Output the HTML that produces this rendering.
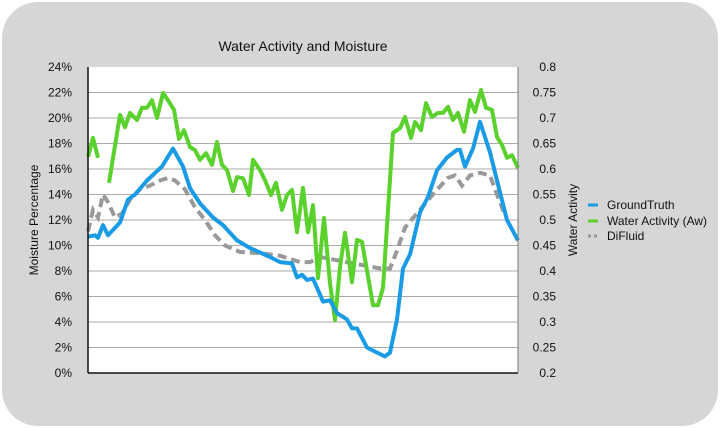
<!DOCTYPE html>
<html><head><meta charset="utf-8"><style>
html,body{margin:0;padding:0;background:#fff;}
svg{display:block;font-family:"Liberation Sans",Arial,sans-serif;}
</style></head><body>
<svg id="chart" width="720" height="428" viewBox="0 0 720 428">
<rect x="2" y="2" width="716" height="424" rx="36" fill="#d6d6d6"/>
<text x="303" y="51" font-size="14" text-anchor="middle" fill="#111">Water Activity and Moisture</text>
<rect x="88" y="67" width="430" height="306" fill="#fff"/>
<g id="grid"></g><g id="series"></g><g id="axes"></g>
<text transform="translate(38,220) rotate(-90)" font-size="12" text-anchor="middle" fill="#111">Moisture Percentage</text>
<text transform="translate(577,220) rotate(-90)" font-size="12" text-anchor="middle" fill="#111">Water Activity</text>
<g>
<g><line x1="588" y1="205" x2="598" y2="205" stroke="#1a9be6" stroke-width="3"/><text x="607" y="209" font-size="12" fill="#111">GroundTruth</text></g>
<g><line x1="588" y1="221" x2="598" y2="221" stroke="#5ad12d" stroke-width="3"/><text x="607" y="225" font-size="12" fill="#111">Water Activity (Aw)</text></g>
<g><line x1="588" y1="236" x2="598" y2="236" stroke="#999" stroke-width="3" stroke-dasharray="3,3"/><text x="607" y="240" font-size="12" fill="#111">DiFluid</text></g>
</g>
</svg>
<script>
const leftTicks=[0,2,4,6,8,10,12,14,16,18,20,22,24];
const rightTicks=["0.2","0.25","0.3","0.35","0.4","0.45","0.5","0.55","0.6","0.65","0.7","0.75","0.8"];
const gtT=[0,7,10,15,20,32,40,47,59,74,85,95,102,112,125,135,149,162,182,192,204,209,214,219,225,235,242,249,259,264,269,279,289,297,302,309,315,322,332,340,349,359,369,372,377,385,392,402,409,419,430];
const gtV=[10.7,10.8,10.6,11.6,10.8,11.8,13.6,14.0,15.1,16.2,17.6,16.2,14.5,13.3,12.2,11.6,10.4,9.8,9.1,8.7,8.6,7.5,7.7,7.3,7.4,5.6,5.7,4.7,4.2,3.5,3.5,2.0,1.6,1.3,1.6,4.2,8.2,9.3,12.6,13.8,15.9,16.9,17.5,17.5,16.2,17.6,19.7,17.3,15.1,12.0,10.4];
const awT=[0,5,10,null,21,32,37,42,49,54,59,64,69,75,80,86,91,96,102,107,112,118,124,129,134,139,145,149,155,161,165,172,177,183,188,194,199,204,209,215,220,225,230,236,242,247,252,257,264,269,274,285,290,295,305,312,317,323,327,333,338,344,350,355,360,365,370,376,382,387,393,398,404,409,414,419,424,430];
const awV=[0.624,0.661,0.622,null,0.573,0.706,0.682,0.710,0.696,0.720,0.720,0.735,0.700,0.749,0.735,0.716,0.659,0.676,0.643,0.637,0.618,0.631,0.608,0.653,0.608,0.598,0.557,0.584,0.582,0.549,0.618,0.598,0.578,0.549,0.573,0.520,0.549,0.559,0.476,0.563,0.476,0.529,0.386,0.504,0.376,0.304,0.408,0.475,0.378,0.461,0.457,0.333,0.333,0.367,0.671,0.680,0.702,0.661,0.692,0.676,0.729,0.702,0.710,0.710,0.722,0.696,0.710,0.673,0.735,0.712,0.755,0.720,0.716,0.663,0.647,0.622,0.627,0.602];
const dfT=[0,5,10,15,20,27,34,42,52,62,72,80,87,97,107,117,127,137,152,172,192,212,222,232,252,272,292,302,309,317,332,347,360,367,374,382,392,402,409,417];
const dfV=[11.1,12.8,12.2,14.0,13.4,12.2,12.5,13.6,14.4,14.7,15.1,15.3,15.1,14.4,13.0,12.0,10.8,10.0,9.5,9.4,9.2,8.7,8.7,9.1,8.8,8.5,8.2,8.2,9.6,11.4,12.8,14.2,15.3,15.5,14.7,15.5,15.7,15.5,14.0,12.4];
const X0=88,X1=518,Y0=373,Y1=67;
const xs=t=>X0+t/430*(X1-X0);
const yL=v=>Y0-v/24*(Y0-Y1);
const yR=v=>Y0-(v-0.2)/0.6*(Y0-Y1);
const NS="http://www.w3.org/2000/svg";
function mk(tag,attrs,parent){const e=document.createElementNS(NS,tag);for(const k in attrs)e.setAttribute(k,attrs[k]);parent.appendChild(e);return e;}
const grid=document.getElementById('grid'),axes=document.getElementById('axes'),ser=document.getElementById('series');
leftTicks.forEach((v,i)=>{
  const y=yL(v);
  if(i>0&&i<leftTicks.length-1){const g=mk('line',{x1:X0,x2:X1,y1:y,y2:y,stroke:'#aaa','stroke-width':1},grid);
  
  }
  const t=mk('text',{x:72,y:y+4,'font-size':12,'text-anchor':'end',fill:'#111'},axes);t.textContent=v+'%';
  
  
});
rightTicks.forEach(s=>{
  const y=yR(parseFloat(s));
  const t=mk('text',{x:556,y:y+4,'font-size':12,'text-anchor':'end',fill:'#111'},axes);t.textContent=s;
  
  
});
const a1=mk('line',{x1:X0,x2:X0,y1:Y1,y2:Y0,stroke:'#111','stroke-width':1.5},axes);


const a2=mk('line',{x1:X0,x2:X1,y1:Y0,y2:Y0,stroke:'#111','stroke-width':1.5},axes);


const a3=mk('line',{x1:X1,x2:X1,y1:Y1,y2:Y0,stroke:'#777','stroke-width':1},axes);


function path(T,V,fy){let d='',pen=false;for(let i=0;i<T.length;i++){if(T[i]==null||V[i]==null){pen=false;continue;}d+=(pen?'L':'M')+xs(T[i]).toFixed(1)+','+fy(V[i]).toFixed(1);pen=true;}return d;}
const p1=mk('path',{d:path(dfT,dfV,yL),fill:'none',stroke:'#999','stroke-width':4,'stroke-dasharray':'9,5'},ser);


const p2=mk('path',{d:path(awT,awV,yR),fill:'none',stroke:'#5ad12d','stroke-width':4,'stroke-linejoin':'round'},ser);


const p3=mk('path',{d:path(gtT,gtV,yL),fill:'none',stroke:'#1a9be6','stroke-width':4,'stroke-linejoin':'round'},ser);


</script>
</body></html>
